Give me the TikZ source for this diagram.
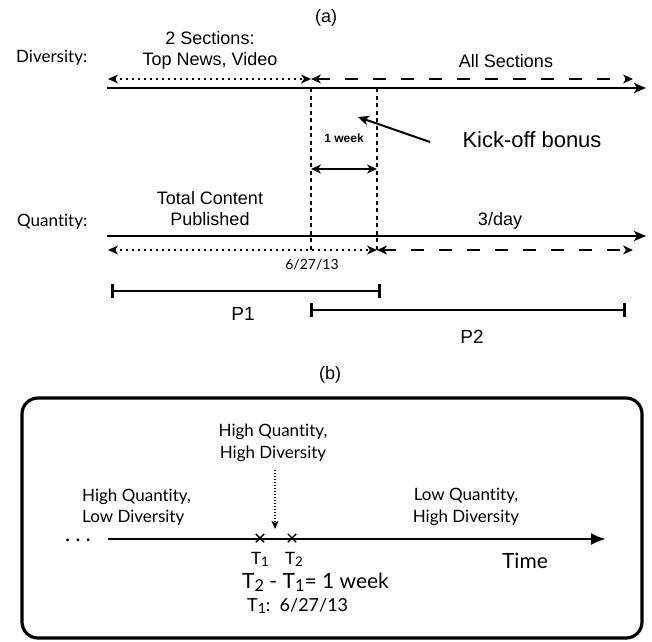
\documentclass[tikz,border=0pt]{standalone}
\usepackage{fontspec}
\setmainfont{Liberation Sans}
\newfontfamily\gillfont[Ligatures={NoCommon}]{Lato}
\newcommand\lowsub[1]{\raisebox{-0.12em}{\fontsize{0.78em}{1em}\selectfont #1}}
\usetikzlibrary{arrows.meta, positioning, shapes.misc}
\tikzset{
    axis/.style={line width=2pt, -{Stealth[length=12pt,width=10pt,inset=3pt]}},
    dotline/.style={line width=2pt, dash pattern=on 2pt off 4pt},
    dashline/.style={line width=2pt, dash pattern=on 13pt off 15pt},
    marker/.style={line width=2.2pt, dash pattern=on 4pt off 3.5pt},
    tips/.style={{Stealth[length=10pt,width=9pt,inset=3pt]}-{Stealth[length=10pt,width=9pt,inset=3pt]}},
    period/.style={line width=2.8pt, {Bar[width=14pt]}-{Bar[width=14pt]}},
    helv/.style={font=\fontsize{18}{21}\selectfont, align=center, inner sep=0pt},
    gill/.style={font=\gillfont\fontsize{17}{21.5}\selectfont, align=center, inner sep=0pt},
    cross/.style={cross out, draw, line width=1.4pt, minimum size=7pt, inner sep=0pt},
}
\begin{document}
\begin{tikzpicture}[x=1pt,y=-1pt]
\useasboundingbox (0,0) rectangle (652,641);

% (a) -- diversity row
\node[helv] (alabel) at (326,18) {(a)};
\node[gill, anchor=west] (divlabel) at (16,58) {Diversity:};
\node[helv] (twosec) at (210,50) {2 Sections:\\Top News, Video};
\node[helv] (allsec) at (506,61) {All Sections};
\coordinate (divstart) at (107,88);
\coordinate (divend) at (646,88);
\draw[axis] (divstart) -- (divend);
\coordinate (dleft) at (108,79);
\coordinate (dsplit) at (311,79);
\coordinate (dright) at (633,79);
\draw[dotline, tips] (dleft) -- (dsplit);
\draw[dashline, tips] (dsplit) -- (dright);

% markers and kick-off bonus
\coordinate (m1top) at (311,88);
\coordinate (m1bot) at (311,250);
\coordinate (m2top) at (377,88);
\coordinate (m2bot) at (377,250);
\draw[marker] (m1top) -- (m1bot);
\draw[marker] (m2top) -- (m2bot);
\node[font=\bfseries\fontsize{12}{14}\selectfont] (week) at (344,138) {1 week};
\coordinate (wleft) at (311,169);
\coordinate (wright) at (377,169);
\draw[line width=1.8pt, tips] (wleft) -- (wright);
\node[helv, font=\fontsize{22}{26}\selectfont] (kick) at (532,140) {Kick-off bonus};
\coordinate (kickfrom) at (430,142);
\coordinate (kickto) at (358,117);
\draw[line width=2pt, -{Stealth[length=11pt,width=10pt,inset=3pt]}] (kickfrom) -- (kickto);

% quantity row
\node[gill, anchor=west] (qlabel) at (17,222) {Quantity:};
\node[helv] (total) at (210,209) {Total Content\\Published};
\node[helv] (perday) at (500,221) {3/day};
\coordinate (qstart) at (107,236);
\coordinate (qend) at (646,236);
\draw[axis] (qstart) -- (qend);
\coordinate (qleft) at (108,250);
\coordinate (qsplit) at (377,250);
\coordinate (qright) at (633,250);
\draw[dotline, tips] (qleft) -- (qsplit);
\draw[dashline, tips] (qsplit) -- (qright);
\node[gill, font=\gillfont\fontsize{14}{16}\selectfont] (date) at (312,265) {6/27/13};

% periods
\coordinate (p1a) at (111,291);
\coordinate (p1b) at (381,291);
\coordinate (p2a) at (310,310);
\coordinate (p2b) at (626,310);
\draw[period] (p1a) -- (p1b);
\draw[period] (p2a) -- (p2b);
\node[helv, font=\fontsize{19}{22}\selectfont] (p1) at (243,314) {P1};
\node[helv, font=\fontsize{19}{22}\selectfont] (p2) at (472,337) {P2};

% (b)
\node[helv] (blabel) at (330,375) {(b)};
\draw[line width=3.2pt, rounded corners=16pt] (22,398) rectangle (642,638);
\node[gill] (hqhd) at (273,443) {High Quantity,\\High Diversity};
\node[gill, align=left, anchor=west] (hqld) at (82,507) {High Quantity,\\Low Diversity};
\node[gill] (lqhd) at (466,507) {Low Quantity,\\High Diversity};
\node[gill, font=\gillfont\bfseries\fontsize{18}{21}\selectfont] (dots) at (78,540) {.\hspace{6pt}.\hspace{6pt}.};
\coordinate (tstart) at (108,539);
\coordinate (tend) at (606,539);
\draw[line width=2.6pt, -{Latex[length=15pt,width=12pt]}] (tstart) -- (tend);
\node[cross] (t1mark) at (260,538) {};
\node[cross] (t2mark) at (292,538) {};
\coordinate (hqtip) at (275,529);
\draw[line width=1.5pt, dash pattern=on 1.5pt off 1.5pt, -{Stealth[length=8pt,width=7pt,inset=2pt]}] (hqhd.south -| hqtip) ++(0,8) -- (hqtip);
\node[gill] (t1) at (260,559) {T\lowsub{1}};
\node[gill] (t2) at (294,559) {T\lowsub{2}};
\node[gill, font=\gillfont\fontsize{21}{24}\selectfont] (time) at (525,561) {Time};
\node[gill, font=\gillfont\fontsize{21}{24}\selectfont, anchor=west] (diff) at (242,582) {T\lowsub{2} - T\lowsub{1}= 1 week};
\node[gill, font=\gillfont\fontsize{18}{22}\selectfont, anchor=west] (start) at (247,606) {T\lowsub{1}:\ \ 6/27/13};
\end{tikzpicture}
\end{document}
